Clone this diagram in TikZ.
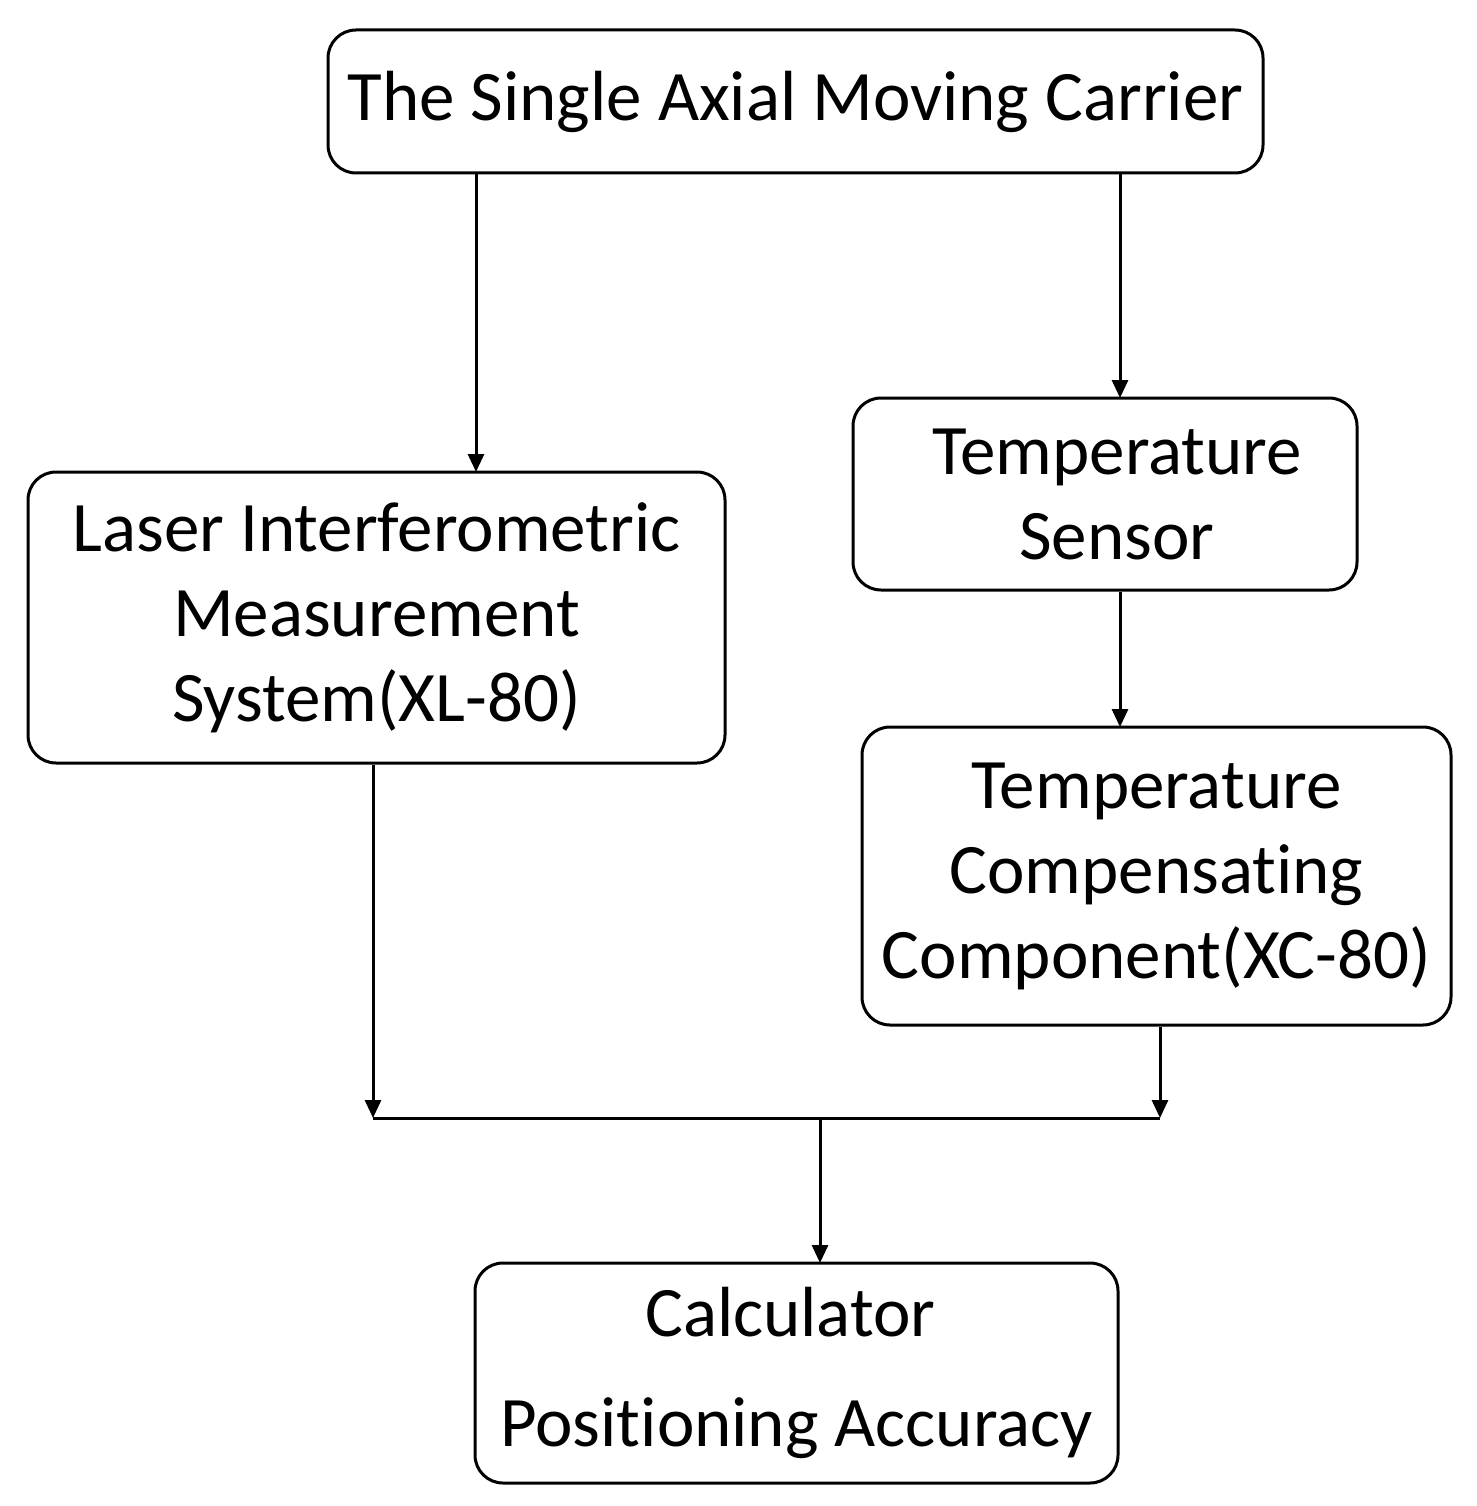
\documentclass[tikz,border=0pt]{standalone}
\usepackage{fontspec}
\setmainfont{Carlito}
\usetikzlibrary{arrows.meta}
\begin{document}
\begin{tikzpicture}[x=1pt,y=-1pt,
  box/.style={draw,line width=3pt,rounded corners=28pt,inner sep=0pt,align=center,font=\fontsize{71}{85}\selectfont},
  arr/.style={line width=3pt,-{Triangle[length=18pt,width=16pt]}},
  ln/.style={line width=3pt}]
\useasboundingbox (0,0) rectangle (1476,1506);
\node[box,minimum width=935pt,minimum height=143pt] (top) at (795.5,101.5) {The Single Axial Moving Carrier};
\node[box,minimum width=697pt,minimum height=291pt] (laser) at (376.5,617.5) {Laser Interferometric\\Measurement\\System(XL-80)};
\node[box,minimum width=504pt,minimum height=192pt] (ts) at (1105,494) {\hspace*{24pt}Temperature\\\hspace*{24pt}Sensor};
\node[box,minimum width=589pt,minimum height=298pt] (tc) at (1156.5,876) {Temperature\\Compensat\kern0pt ing\\Component(XC-80)};
\node[box,minimum width=643pt,minimum height=220pt] (calc) at (796.5,1373) {\hspace*{-12pt}Calculator\\[25pt]Posit\kern0pt ioning Accuracy};
\coordinate (a1) at (476,472);
\coordinate (a2) at (1120,398);
\coordinate (a3) at (1120,727);
\coordinate (j1) at (373,1118);
\coordinate (j2) at (1160,1118);
\coordinate (jm) at (820,1118);
\coordinate (a4) at (820,1263);
\draw[arr] (top.south -| a1) -- (a1);
\draw[arr] (top.south -| a2) -- (a2);
\draw[arr] (ts.south -| a3) -- (a3);
\draw[arr] (laser.south -| j1) -- (j1);
\draw[arr] (tc.south -| j2) -- (j2);
\draw[ln] (j1) -- (j2);
\draw[arr] (jm) -- (a4);
\end{tikzpicture}
\end{document}
